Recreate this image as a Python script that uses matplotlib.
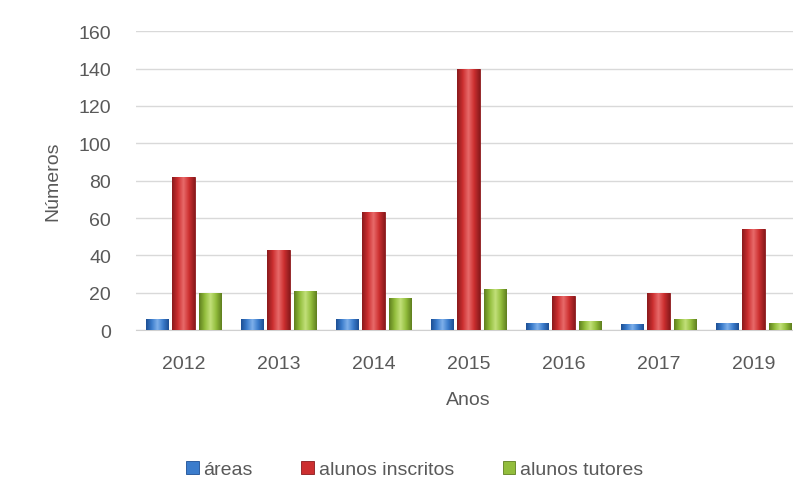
import numpy as np
import matplotlib.pyplot as plt
from matplotlib.colors import LinearSegmentedColormap

# Values
anos = ['2012', '2013', '2014', '2015', '2016', '2017', '2019']
areas = [6, 6, 6, 6, 4, 3, 4]
inscritos = [82, 43, 63, 140, 18, 20, 54]
tutores = [20, 21, 17, 22, 5, 6, 4]

# name, values, dark, base, light
series = [
    ('áreas', areas, '#1d4f94', '#3b7ccc', '#7fb0ea'),
    ('alunos inscritos', inscritos, '#8a1a1c', '#cc2f30', '#e86a6a'),
    ('alunos tutores', tutores, '#5f7f1f', '#92bd3c', '#c2e07a'),
]

plt.rcParams['font.family'] = ['Liberation Sans', 'DejaVu Sans']
fs = 14

fig = plt.figure(figsize=(7.93, 4.89), dpi=100)
ax = fig.add_axes([0.1715, 0.323, 0.8386, 0.611])

x = np.arange(len(anos))
w = 0.232
step = 0.274

for i, (name, vals, dark, base, light) in enumerate(series):
    bars = ax.bar(x + (i - 1) * step, vals, width=w, color=base, edgecolor=dark,
                  linewidth=0.6, label=name, zorder=3)
    cmap = LinearSegmentedColormap.from_list('g', [dark, base, light, base, dark])
    grad = np.linspace(0, 1, 64).reshape(1, -1)
    for b in bars:
        x0, y0 = b.get_x(), b.get_y()
        im = ax.imshow(grad, cmap=cmap, aspect='auto', zorder=3.5,
                       extent=[x0, x0 + b.get_width(), y0, y0 + b.get_height()])
        im.set_clip_path(b)

ax.set_ylim(0, 160)
ax.set_xlim(-0.5, len(anos) - 0.5)
ax.set_yticks(range(0, 161, 20))
ax.set_xticks(x)
ax.set_xticklabels(anos)
ax.grid(axis='y', color='#d9d9d9', linewidth=1, zorder=0)
for s in ['top', 'right', 'left']:
    ax.spines[s].set_visible(False)
ax.spines['bottom'].set_color('#d0d0d0')
ax.tick_params(axis='both', length=0, labelsize=fs, colors='#595959')
ax.tick_params(axis='x', pad=18)
ax.tick_params(axis='y', pad=18)
ax.set_xlabel('Anos', fontsize=fs, color='#595959', labelpad=14)
ax.set_ylabel('Números', fontsize=fs, color='#595959', labelpad=12)

fig.legend(loc='center', bbox_to_anchor=(0.523, 0.038), ncol=3, frameon=False,
           fontsize=fs, labelcolor='#595959', handlelength=0.65,
           handleheight=0.65, handletextpad=0.25, columnspacing=2.5)

fig.savefig('out.png', dpi=100, facecolor='white')
